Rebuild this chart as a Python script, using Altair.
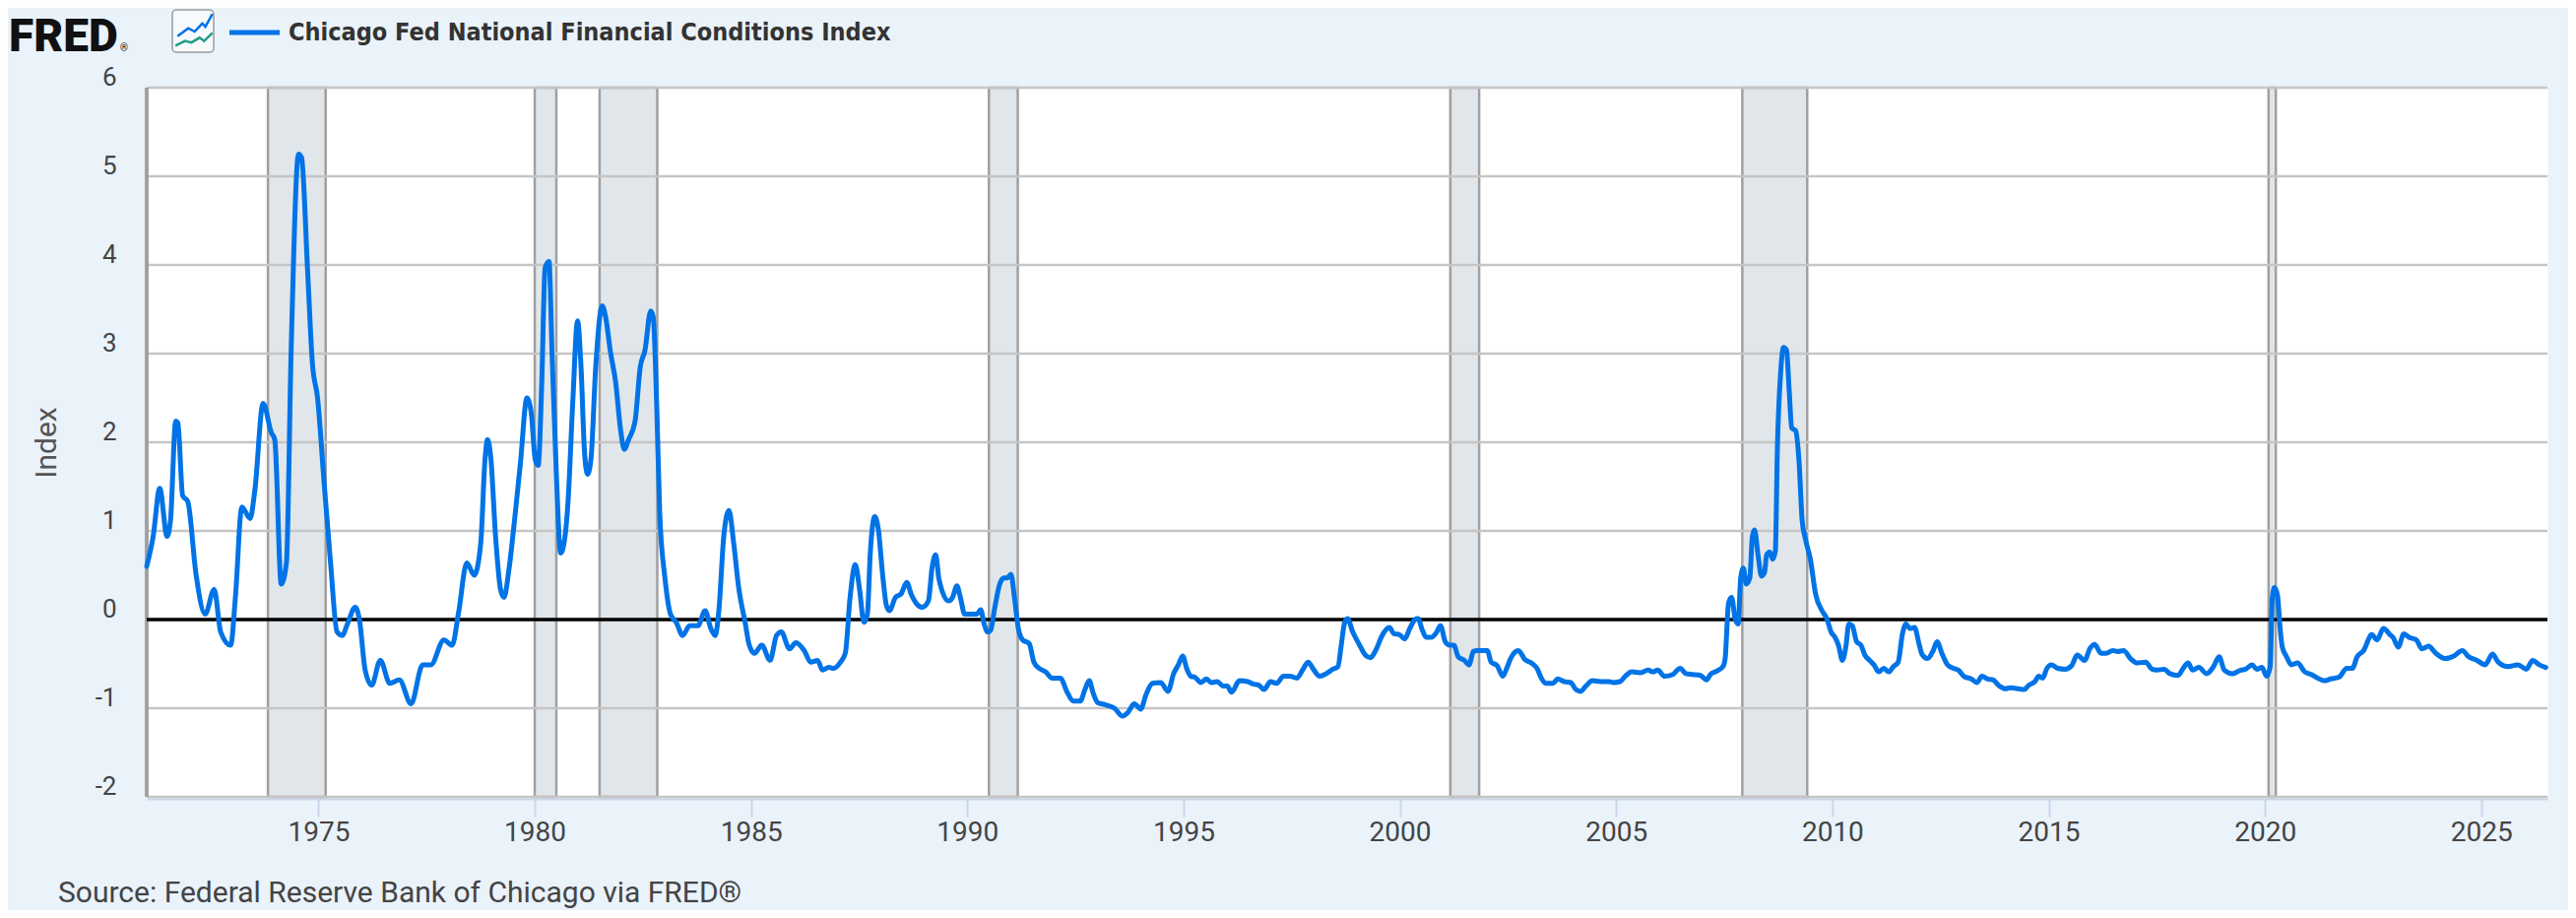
import altair as alt
import pandas as pd

# ---- data (decimal year, index value) ----
seg_1970s = [
    (1971.03, 0.60), (1971.18, 0.94), (1971.33, 1.48), (1971.50, 0.94), (1971.58, 1.12),
    (1971.70, 2.24), (1971.75, 2.22), (1971.86, 1.40), (1971.98, 1.33), (1972.17, 0.51),
    (1972.38, 0.06), (1972.59, 0.34), (1972.74, -0.14), (1972.97, -0.29), (1973.08, 0.25),
    (1973.23, 1.27), (1973.42, 1.14), (1973.53, 1.46), (1973.72, 2.44), (1973.91, 2.11),
    (1973.99, 2.03), (1974.14, 0.40), (1974.26, 0.64), (1974.37, 3.06), (1974.54, 5.25),
    (1974.61, 5.21), (1974.75, 3.93), (1974.86, 2.89), (1974.98, 2.50), (1975.13, 1.55),
    (1975.28, 0.64), (1975.43, -0.14), (1975.55, -0.18), (1975.67, -0.05), (1975.85, 0.14),
    (1975.95, -0.01), (1976.08, -0.57), (1976.23, -0.74), (1976.43, -0.46), (1976.65, -0.72),
    (1976.87, -0.68), (1977.14, -0.95), (1977.41, -0.51), (1977.60, -0.51), (1977.90, -0.23),
    (1978.09, -0.29), (1978.24, 0.08), (1978.43, 0.64), (1978.60, 0.50), (1978.75, 0.85),
    (1978.85, 1.80), (1978.91, 2.03), (1978.98, 1.85), (1979.10, 0.90), (1979.21, 0.34),
    (1979.29, 0.25), (1979.40, 0.55), (1979.55, 1.20), (1979.67, 1.77), (1979.82, 2.50),
    (1979.92, 2.33),
]
seg_1980s = [
    (1980.01, 1.81), (1980.08, 1.74), (1980.16, 2.63), (1980.24, 3.97), (1980.33, 4.04),
    (1980.40, 3.02), (1980.50, 1.64), (1980.60, 0.75), (1980.69, 0.90), (1980.77, 1.33),
    (1980.88, 2.46), (1980.99, 3.37), (1981.07, 2.85), (1981.15, 1.90), (1981.22, 1.64),
    (1981.30, 1.81), (1981.41, 2.85), (1981.56, 3.54), (1981.64, 3.41), (1981.75, 3.02),
    (1981.87, 2.68), (1981.98, 2.16), (1982.07, 1.92), (1982.17, 2.03), (1982.32, 2.24),
    (1982.44, 2.85), (1982.55, 3.04), (1982.68, 3.48), (1982.74, 3.41), (1982.82, 2.42),
    (1982.89, 1.20), (1983.01, 0.47), (1983.14, 0.06), (1983.27, -0.03), (1983.42, -0.18),
    (1983.58, -0.07), (1983.77, -0.07), (1983.94, 0.10), (1984.07, -0.10), (1984.17, -0.18),
    (1984.26, 0.12), (1984.37, 0.94), (1984.49, 1.23), (1984.60, 0.86), (1984.71, 0.38),
    (1984.87, -0.05), (1984.96, -0.29), (1985.08, -0.38), (1985.25, -0.29), (1985.44, -0.46),
    (1985.59, -0.18), (1985.70, -0.14), (1985.89, -0.33), (1986.04, -0.26), (1986.23, -0.35),
    (1986.38, -0.48), (1986.54, -0.46), (1986.65, -0.57), (1986.80, -0.54), (1986.91, -0.55),
    (1987.07, -0.48), (1987.18, -0.38), (1987.29, 0.25), (1987.41, 0.62), (1987.51, 0.34),
    (1987.61, -0.03), (1987.69, 0.06), (1987.76, 0.77), (1987.86, 1.16), (1987.94, 1.03),
    (1988.05, 0.47), (1988.13, 0.16), (1988.20, 0.10), (1988.34, 0.25), (1988.47, 0.29),
    (1988.60, 0.42), (1988.70, 0.29), (1988.81, 0.19), (1988.96, 0.14), (1989.10, 0.21),
    (1989.19, 0.60), (1989.27, 0.73), (1989.34, 0.47), (1989.42, 0.32), (1989.57, 0.21),
    (1989.66, 0.25), (1989.76, 0.38), (1989.84, 0.25), (1989.94, 0.06),
]
seg_1990s = [
    (1990.09, 0.06), (1990.22, 0.06), (1990.31, 0.11), (1990.39, -0.05), (1990.47, -0.14),
    (1990.54, -0.12), (1990.63, 0.12), (1990.75, 0.40), (1990.85, 0.47), (1990.92, 0.47),
    (1991.01, 0.51), (1991.09, 0.25), (1991.18, -0.10), (1991.28, -0.23), (1991.43, -0.27),
    (1991.54, -0.48), (1991.66, -0.55), (1991.81, -0.59), (1991.96, -0.66), (1992.15, -0.66),
    (1992.30, -0.81), (1992.45, -0.92), (1992.61, -0.92), (1992.72, -0.79), (1992.82, -0.69),
    (1992.91, -0.83), (1993.02, -0.94), (1993.18, -0.96), (1993.40, -1.00), (1993.59, -1.09),
    (1993.71, -1.05), (1993.86, -0.95), (1994.01, -1.01), (1994.13, -0.85), (1994.28, -0.72),
    (1994.47, -0.71), (1994.64, -0.81), (1994.77, -0.61), (1994.88, -0.51), (1994.98, -0.41),
    (1995.07, -0.55), (1995.17, -0.64), (1995.26, -0.65), (1995.40, -0.71), (1995.53, -0.67),
    (1995.64, -0.71), (1995.78, -0.70), (1995.91, -0.75), (1996.01, -0.75), (1996.11, -0.82),
    (1996.29, -0.69), (1996.48, -0.70), (1996.63, -0.73), (1996.74, -0.74), (1996.86, -0.79),
    (1997.01, -0.70), (1997.15, -0.72), (1997.31, -0.64), (1997.46, -0.64), (1997.62, -0.66),
    (1997.75, -0.57), (1997.88, -0.48), (1998.00, -0.56), (1998.15, -0.64), (1998.30, -0.61),
    (1998.45, -0.56), (1998.57, -0.53), (1998.64, -0.31), (1998.72, -0.04), (1998.79, 0.01),
    (1998.91, -0.14), (1999.06, -0.28), (1999.20, -0.40), (1999.32, -0.43), (1999.44, -0.35),
    (1999.59, -0.18), (1999.76, -0.09), (1999.86, -0.16), (1999.99, -0.17),
]
seg_2000s = [
    (2000.11, -0.22), (2000.23, -0.10), (2000.35, 0.00), (2000.42, 0.01), (2000.52, -0.12),
    (2000.61, -0.20), (2000.73, -0.20), (2000.84, -0.15), (2000.94, -0.07), (2001.05, -0.25),
    (2001.15, -0.29), (2001.25, -0.29), (2001.35, -0.42), (2001.49, -0.46), (2001.60, -0.51),
    (2001.70, -0.36), (2001.79, -0.35), (2001.93, -0.35), (2002.02, -0.35), (2002.11, -0.48),
    (2002.25, -0.52), (2002.38, -0.64), (2002.47, -0.55), (2002.56, -0.44), (2002.74, -0.35),
    (2002.89, -0.45), (2003.04, -0.49), (2003.17, -0.55), (2003.27, -0.66), (2003.37, -0.72),
    (2003.54, -0.72), (2003.65, -0.67), (2003.80, -0.70), (2003.95, -0.71), (2004.07, -0.79),
    (2004.18, -0.81), (2004.30, -0.75), (2004.45, -0.69), (2004.64, -0.70), (2004.83, -0.70),
    (2004.94, -0.71), (2005.09, -0.70), (2005.21, -0.64), (2005.36, -0.59), (2005.55, -0.60),
    (2005.74, -0.57), (2005.85, -0.59), (2005.96, -0.57), (2006.12, -0.64), (2006.31, -0.62),
    (2006.48, -0.55), (2006.61, -0.61), (2006.76, -0.62), (2006.95, -0.63), (2007.09, -0.68),
    (2007.18, -0.62), (2007.33, -0.58), (2007.47, -0.53), (2007.52, -0.44), (2007.60, 0.19),
    (2007.67, 0.25), (2007.75, 0.01), (2007.82, -0.05), (2007.88, 0.47), (2007.94, 0.58),
    (2008.01, 0.40), (2008.09, 0.47), (2008.15, 0.94), (2008.20, 1.01), (2008.28, 0.73),
    (2008.36, 0.49), (2008.43, 0.53), (2008.48, 0.73), (2008.55, 0.76), (2008.62, 0.68),
    (2008.68, 0.77), (2008.73, 1.98), (2008.80, 2.76), (2008.87, 3.07), (2008.94, 3.04),
    (2009.00, 2.59), (2009.06, 2.16), (2009.15, 2.13), (2009.23, 1.77), (2009.30, 1.12),
    (2009.38, 0.90), (2009.49, 0.68), (2009.61, 0.29), (2009.76, 0.10), (2009.87, 0.01),
    (2009.97, -0.14),
]
seg_2010s = [
    (2010.06, -0.20), (2010.14, -0.29), (2010.23, -0.46), (2010.31, -0.31), (2010.38, -0.05),
    (2010.46, -0.07), (2010.56, -0.25), (2010.66, -0.29), (2010.75, -0.40), (2010.86, -0.46),
    (2010.96, -0.51), (2011.07, -0.59), (2011.19, -0.55), (2011.30, -0.59), (2011.41, -0.53),
    (2011.52, -0.48), (2011.62, -0.16), (2011.70, -0.05), (2011.79, -0.10), (2011.90, -0.09),
    (2012.00, -0.27), (2012.07, -0.39), (2012.20, -0.44), (2012.33, -0.35), (2012.42, -0.25),
    (2012.53, -0.38), (2012.66, -0.51), (2012.80, -0.55), (2012.91, -0.57), (2013.04, -0.64),
    (2013.21, -0.67), (2013.34, -0.71), (2013.46, -0.64), (2013.59, -0.67), (2013.71, -0.68),
    (2013.86, -0.75), (2013.99, -0.78), (2014.12, -0.77), (2014.30, -0.78), (2014.43, -0.79),
    (2014.54, -0.74), (2014.68, -0.70), (2014.77, -0.64), (2014.86, -0.66), (2014.96, -0.55),
    (2015.06, -0.51), (2015.21, -0.55), (2015.38, -0.56), (2015.53, -0.52), (2015.66, -0.40),
    (2015.83, -0.46), (2015.95, -0.33), (2016.06, -0.28), (2016.21, -0.38), (2016.33, -0.38),
    (2016.48, -0.35), (2016.59, -0.36), (2016.73, -0.35), (2016.89, -0.44), (2017.05, -0.49),
    (2017.24, -0.48), (2017.39, -0.56), (2017.50, -0.57), (2017.67, -0.56), (2017.80, -0.61),
    (2017.99, -0.63), (2018.11, -0.55), (2018.22, -0.49), (2018.33, -0.57), (2018.47, -0.54),
    (2018.65, -0.61), (2018.81, -0.53), (2018.94, -0.42), (2019.06, -0.57), (2019.25, -0.61),
    (2019.44, -0.57), (2019.55, -0.56), (2019.70, -0.51), (2019.81, -0.56), (2019.93, -0.54),
]
seg_2020s = [
    (2020.04, -0.64), (2020.12, -0.53), (2020.17, 0.25), (2020.22, 0.36), (2020.29, 0.27),
    (2020.35, -0.10), (2020.40, -0.31), (2020.50, -0.42), (2020.61, -0.51), (2020.75, -0.49),
    (2020.92, -0.59), (2021.07, -0.62), (2021.22, -0.66), (2021.37, -0.69), (2021.52, -0.67),
    (2021.71, -0.65), (2021.89, -0.55), (2022.02, -0.55), (2022.13, -0.42), (2022.28, -0.35),
    (2022.47, -0.17), (2022.59, -0.23), (2022.74, -0.10), (2022.89, -0.17), (2022.96, -0.20),
    (2023.08, -0.31), (2023.21, -0.16), (2023.33, -0.20), (2023.50, -0.23), (2023.63, -0.33),
    (2023.78, -0.30), (2023.95, -0.38), (2024.16, -0.44), (2024.37, -0.41), (2024.56, -0.35),
    (2024.71, -0.42), (2024.90, -0.46), (2025.09, -0.51), (2025.26, -0.39), (2025.39, -0.48),
    (2025.61, -0.53), (2025.85, -0.51), (2026.04, -0.56), (2026.19, -0.46), (2026.34, -0.51),
    (2026.49, -0.54),
]

recession_start = [1973.833, 1980.0, 1981.5, 1990.5, 2001.167, 2007.917, 2020.083]
recession_end = [1975.167, 1980.5, 1982.833, 1991.167, 2001.833, 2009.417, 2020.25]

y_ticks = [-2, -1, 0, 1, 2, 3, 4, 5, 6]
x_ticks = [1975, 1980, 1985, 1990, 1995, 2000, 2005, 2010, 2015, 2020, 2025]
x_domain = [1971.03, 2026.53]

title_text = "Chicago Fed National Financial Conditions Index"
source_text = "Source: Federal Reserve Bank of Chicago via FRED®"

# ---- build tables ----
rows = seg_1970s + seg_1980s + seg_1990s + seg_2000s + seg_2010s + seg_2020s
series = pd.DataFrame(rows, columns=["year", "value"])
rec = pd.DataFrame({"year": recession_start, "end": recession_end})
grid = pd.DataFrame({"value": y_ticks})

W, H = 2438, 720
BLUE = "#0073E6"
FONT = "Roboto"

xscale = alt.Scale(domain=x_domain, nice=False, zero=False)
yscale = alt.Scale(domain=[-2, 6], nice=False, zero=False)

xaxis = alt.Axis(
    title="",
    values=x_ticks,
    format="d",
    grid=False,
    labelFont=FONT,
    labelFontSize=28,
    labelColor="#444444",
    labelPadding=2,
    labelFlush=False,
    tickSize=18,
    tickWidth=2,
    tickColor="#CCD6EB",
    domainColor="#CCD6EB",
    domainWidth=2,
    offset=2,
)
yaxis = alt.Axis(
    title="Index",
    values=y_ticks,
    labelExpr="'' + datum.value",
    grid=False,
    ticks=False,
    domain=False,
    labelFont=FONT,
    labelFontSize=26,
    labelColor="#444444",
    labelPadding=31,
    labelOffset=-11,
    labelBaseline="middle",
    titleFont=FONT,
    titleFontSize=30,
    titleFontWeight="normal",
    titleColor="#555555",
    titleAngle=270,
    titleX=-102,
    titleY=H / 2,
    titleAlign="center",
    titleBaseline="middle",
)

recessions = alt.Chart(rec).mark_rect(
    fill="#E1E6EB", stroke="#A0A0A0", strokeWidth=2.5
).encode(
    x=alt.X("year:Q", scale=xscale, axis=xaxis),
    x2="end:Q",
    y=alt.value(0),
    y2=alt.value(H),
)

gridlines = alt.Chart(grid).mark_rule(color="#C5C5C5", strokeWidth=2.5).encode(
    y=alt.Y("value:Q", scale=yscale, axis=yaxis)
)

left_border = alt.Chart(grid).mark_rule(color="#A0A0A0", strokeWidth=2.5).encode(
    x=alt.value(0), y=alt.value(0), y2=alt.value(H)
)

zero_line = alt.Chart(pd.DataFrame({"value": [0]})).mark_rule(
    color="black", strokeWidth=3.5
).encode(y=alt.Y("value:Q", scale=yscale, axis=yaxis))

line = alt.Chart(series).mark_line(
    color=BLUE, strokeWidth=5, interpolate="monotone", strokeJoin="round", strokeCap="round"
).encode(
    x=alt.X("year:Q", scale=xscale, axis=xaxis),
    y=alt.Y("value:Q", scale=yscale, axis=yaxis),
)

one = pd.DataFrame({"t": [title_text]})

fred_logo = alt.Chart(one).mark_text(
    text="FRED", font=FONT, fontSize=46, fontWeight=900, color="#111111",
    align="left", baseline="alphabetic"
).encode(x=alt.value(-140), y=alt.value(-37))

fred_reg = alt.Chart(one).mark_text(
    text="®", font=FONT, fontSize=10, color="#111111", align="left", baseline="alphabetic"
).encode(x=alt.value(-27), y=alt.value(-37))

icon_box = alt.Chart(one).mark_rect(
    fill="#F7FAFD", stroke="#9A9A9A", strokeWidth=1.5, cornerRadius=4
).encode(x=alt.value(26), x2=alt.value(68), y=alt.value(-79), y2=alt.value(-36))

blue_zig = "M-0.75,0.23 L-0.23,-0.16 L0.08,0 L0.45,-0.39 L0.6,-0.23 L0.94,-0.85"
green_zig = "M-0.85,0.69 L-0.39,0.46 L-0.08,0.53 L0.32,0.3 L0.54,0.46 L0.94,0.07"

icon_blue = alt.Chart(one).mark_point(
    shape=blue_zig, size=1760, filled=False, stroke=BLUE, strokeWidth=2.5, opacity=1
).encode(x=alt.value(47), y=alt.value(-57))

icon_green = alt.Chart(one).mark_point(
    shape=green_zig, size=1760, filled=False, stroke="#1F9E84", strokeWidth=2.5, opacity=1
).encode(x=alt.value(47), y=alt.value(-57))

legend_swatch = alt.Chart(one).mark_rule(color=BLUE, strokeWidth=5).encode(
    x=alt.value(84), x2=alt.value(135), y=alt.value(-56)
)

title = alt.Chart(one).mark_text(
    font="Liberation Sans Narrow, DejaVu Sans Condensed, Roboto", fontSize=25,
    fontWeight="bold", color="#333333", align="left", baseline="middle"
).encode(x=alt.value(144), y=alt.value(-56), text="t:N")

source = alt.Chart(pd.DataFrame({"s": [source_text]})).mark_text(
    font=FONT, fontSize=30, color="#444444", align="left", baseline="middle"
).encode(x=alt.value(-90), y=alt.value(818), text="s:N")

chart = alt.layer(
    recessions, gridlines, left_border, zero_line, line,
    fred_logo, fred_reg, icon_box, icon_blue, icon_green, legend_swatch, title, source,
).properties(
    width=W,
    height=H,
    padding={"left": 141, "top": 81, "right": 21, "bottom": 115},
    autosize=alt.AutoSizeParams(type="none"),
    background="#EAF2FA",
).configure_view(
    fill="white", stroke="transparent"
)

chart.save("out.html", embed_options={"renderer": "svg", "actions": False})
